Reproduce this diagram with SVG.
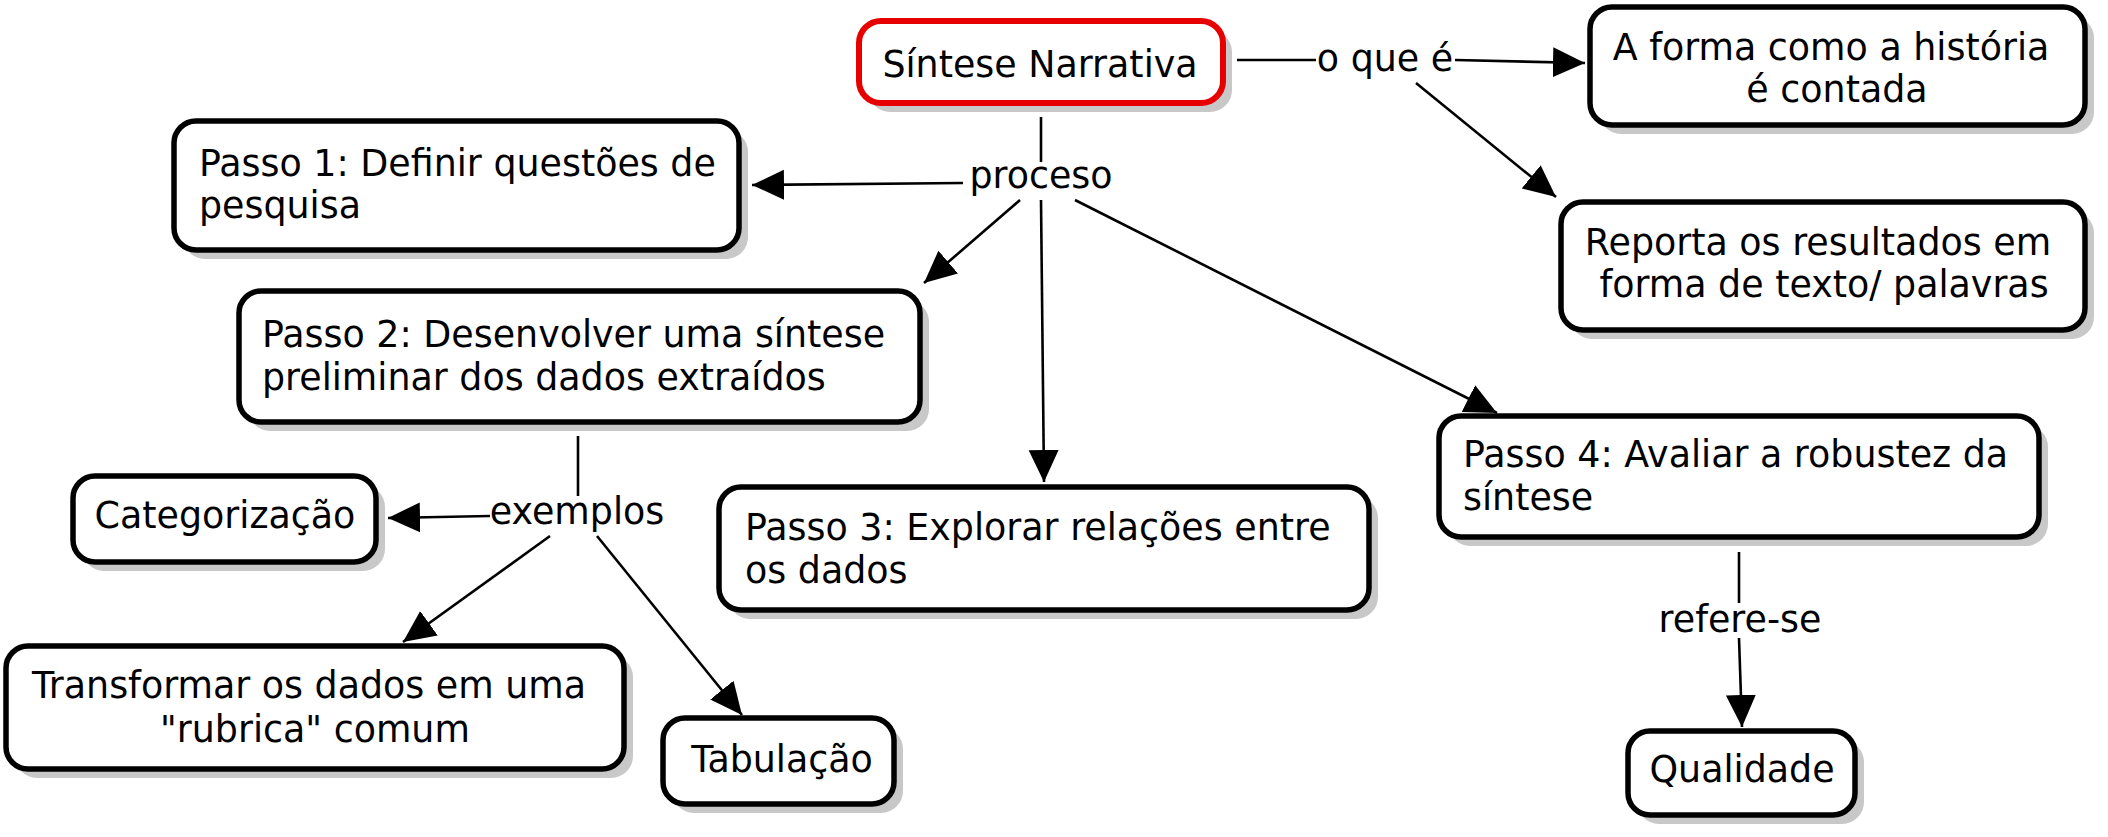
<svg xmlns="http://www.w3.org/2000/svg" width="2108" height="837" viewBox="0 0 2108 837">
<style>
.shadow{fill:#c8c8c8;stroke:none}
.box{fill:#fff;stroke:#000;stroke-width:5.5}
.main{fill:#fff;stroke:#e60000;stroke-width:6}
text{font-family:"DejaVu Sans","Liberation Sans",sans-serif;font-size:36.4px;fill:#000}
.c{text-anchor:middle}
.ln{stroke:#000;stroke-width:2.6;fill:none}
</style>
<defs>
<marker id="arr" viewBox="0 0 32 32" refX="32" refY="16" markerWidth="32" markerHeight="32" orient="auto" markerUnits="userSpaceOnUse">
<path d="M0,1 L32,16 L0,31 Z" fill="#000"/>
</marker>
</defs>
<rect width="2108" height="837" fill="#fff"/>
<g id="connectors">
<line class="ln" x1="1237" y1="60" x2="1316" y2="60"/>
<line class="ln" x1="1455" y1="60" x2="1585" y2="63" marker-end="url(#arr)"/>
<line class="ln" x1="1416" y1="83" x2="1556" y2="197" marker-end="url(#arr)"/>
<line class="ln" x1="1041" y1="117" x2="1041" y2="162"/>
<line class="ln" x1="963" y1="183" x2="752" y2="185" marker-end="url(#arr)"/>
<line class="ln" x1="1020" y1="200" x2="924" y2="283" marker-end="url(#arr)"/>
<line class="ln" x1="1041" y1="200" x2="1044" y2="482" marker-end="url(#arr)"/>
<line class="ln" x1="1075" y1="200" x2="1497" y2="413" marker-end="url(#arr)"/>
<line class="ln" x1="578" y1="436" x2="578" y2="496"/>
<line class="ln" x1="490" y1="516" x2="388" y2="518" marker-end="url(#arr)"/>
<line class="ln" x1="550" y1="536" x2="403" y2="642" marker-end="url(#arr)"/>
<line class="ln" x1="597" y1="536" x2="742" y2="715" marker-end="url(#arr)"/>
<line class="ln" x1="1739" y1="552" x2="1739" y2="603"/>
<line class="ln" x1="1739" y1="638" x2="1742" y2="727" marker-end="url(#arr)"/>
</g>
<g id="lbl-oquee"><text class="c" x="1385" y="71">o que é</text></g>
<g id="lbl-proceso"><text class="c" x="1041" y="188">proceso</text></g>
<g id="lbl-exemplos"><text class="c" x="577" y="524">exemplos</text></g>
<g id="lbl-referese"><text class="c" x="1740" y="632">refere-se</text></g>
<g id="n-sintese">
<rect class="shadow" x="868" y="30" width="364" height="82" rx="22"/>
<rect class="main" x="859" y="21" width="364" height="82" rx="22"/>
<text class="c" x="1040" y="77">Síntese Narrativa</text>
</g>
<g id="n-forma">
<rect class="shadow" x="1599" y="16" width="495" height="118" rx="22"/>
<rect class="box" x="1590" y="7" width="495" height="118" rx="22"/>
<text class="c" x="1831" y="60">A forma como a história</text>
<text class="c" x="1837" y="102">é contada</text>
</g>
<g id="n-reporta">
<rect class="shadow" x="1570" y="211" width="524" height="128" rx="22"/>
<rect class="box" x="1561" y="202" width="524" height="128" rx="22"/>
<text class="c" x="1818" y="255">Reporta os resultados em</text>
<text class="c" x="1824" y="297">forma de texto/ palavras</text>
</g>
<g id="n-passo1">
<rect class="shadow" x="183" y="130" width="565" height="129" rx="22"/>
<rect class="box" x="174" y="121" width="565" height="129" rx="22"/>
<text x="199" y="176">Passo 1: Definir questões de</text>
<text x="199" y="218">pesquisa</text>
</g>
<g id="n-passo2">
<rect class="shadow" x="248" y="300" width="681" height="131" rx="22"/>
<rect class="box" x="239" y="291" width="681" height="131" rx="22"/>
<text x="262" y="347">Passo 2: Desenvolver uma síntese</text>
<text x="262" y="390">preliminar dos dados extraídos</text>
</g>
<g id="n-passo3">
<rect class="shadow" x="728" y="496" width="650" height="123" rx="22"/>
<rect class="box" x="719" y="487" width="650" height="123" rx="22"/>
<text x="745" y="540">Passo 3: Explorar relações entre</text>
<text x="745" y="583">os dados</text>
</g>
<g id="n-passo4">
<rect class="shadow" x="1448" y="425" width="600" height="121" rx="22"/>
<rect class="box" x="1439" y="416" width="600" height="121" rx="22"/>
<text x="1463" y="467">Passo 4: Avaliar a robustez da</text>
<text x="1463" y="510">síntese</text>
</g>
<g id="n-categorizacao">
<rect class="shadow" x="82" y="485" width="303" height="86" rx="22"/>
<rect class="box" x="73" y="476" width="303" height="86" rx="22"/>
<text class="c" x="225" y="528">Categorização</text>
</g>
<g id="n-transformar">
<rect class="shadow" x="15" y="655" width="618" height="123" rx="22"/>
<rect class="box" x="6" y="646" width="618" height="123" rx="22"/>
<text class="c" x="309" y="698">Transformar os dados em uma</text>
<text class="c" x="315" y="742">"rubrica" comum</text>
</g>
<g id="n-tabulacao">
<rect class="shadow" x="672" y="727" width="231" height="86" rx="22"/>
<rect class="box" x="663" y="718" width="231" height="86" rx="22"/>
<text class="c" x="782" y="772">Tabulação</text>
</g>
<g id="n-qualidade">
<rect class="shadow" x="1637" y="740" width="227" height="84" rx="22"/>
<rect class="box" x="1628" y="731" width="227" height="84" rx="22"/>
<text class="c" x="1742" y="782">Qualidade</text>
</g>
</svg>
